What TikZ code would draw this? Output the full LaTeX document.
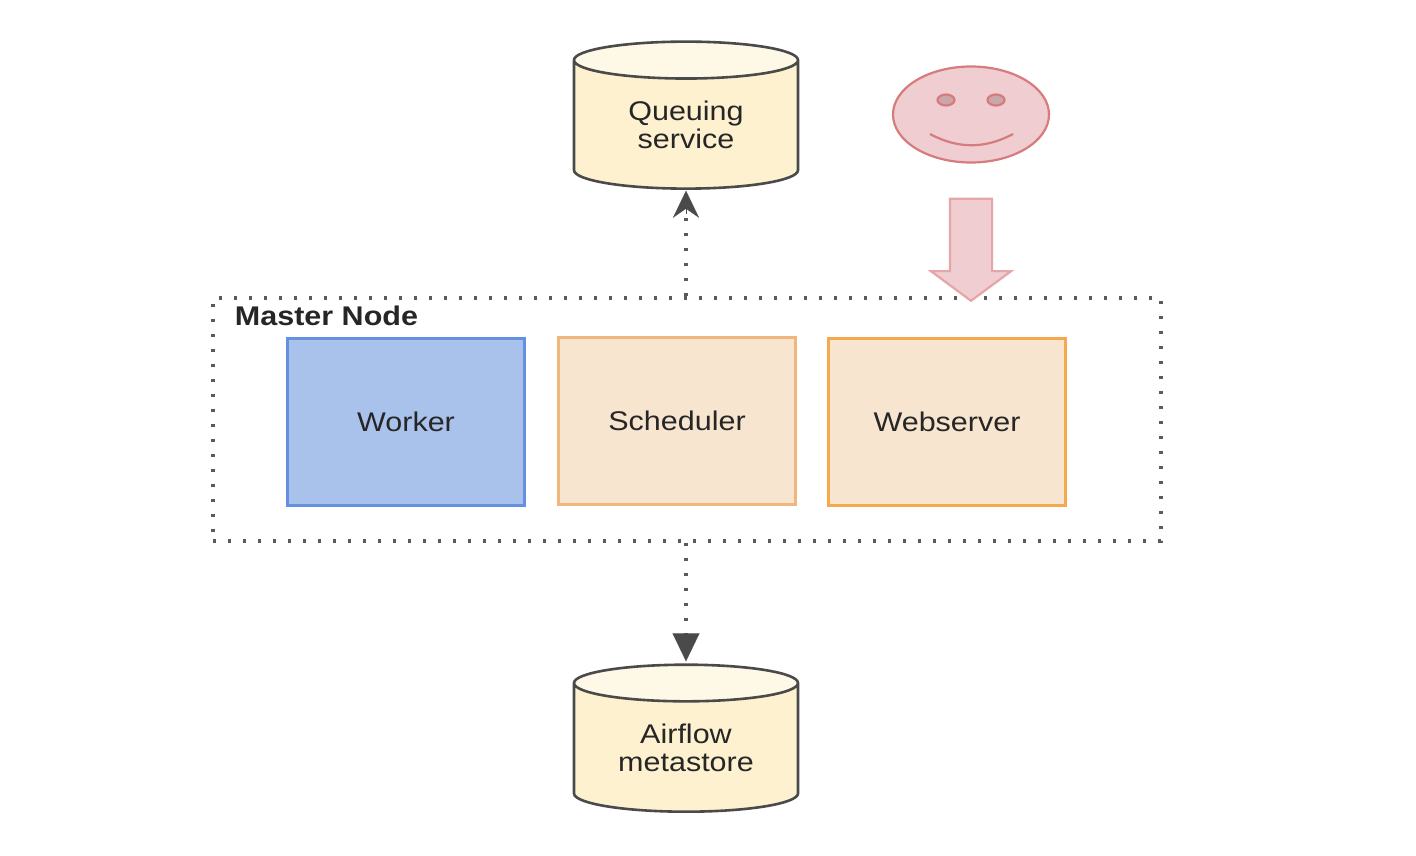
\documentclass[tikz,border=0pt]{standalone}
\usepackage{fontspec}
\setmainfont[FakeStretch=1.13]{Liberation Sans}
\usetikzlibrary{shapes.geometric,shapes.arrows,arrows.meta}
\definecolor{inkgray}{HTML}{4A4A4A}
\definecolor{dotgray}{HTML}{5A5A5A}
\definecolor{storefill}{HTML}{FDF1D0}
\definecolor{storetop}{HTML}{FEF8E6}
\definecolor{workerfill}{HTML}{A9C2EC}
\definecolor{workerline}{HTML}{6490E2}
\definecolor{peachfill}{HTML}{F8E5D0}
\definecolor{peachline}{HTML}{F0B67C}
\definecolor{webline}{HTML}{F5A84E}
\definecolor{facefill}{HTML}{EFCDD0}
\definecolor{faceline}{HTML}{D67C7E}
\definecolor{eyefill}{HTML}{C9A6A8}
\definecolor{arrowline}{HTML}{E5A6A8}
\begin{document}
\begin{tikzpicture}[
x=1pt, y=-1pt,
every node/.style={font=\fontsize{27}{28.5}\selectfont, text=black!85, align=center},
store/.style={cylinder, shape border rotate=90, draw=inkgray, line width=2.6pt, aspect=0.32, cylinder uses custom fill, cylinder body fill=storefill, cylinder end fill=storetop, minimum width=224pt, minimum height=147pt, inner sep=0pt},
component/.style={rectangle, line width=2.6pt, minimum width=237pt, minimum height=167pt, inner sep=0pt},
group/.style={rectangle, draw=dotgray, line width=3.4pt, dash pattern=on 3.4pt off 11.6pt, minimum width=948pt, minimum height=243pt, inner sep=0pt},
link/.style={draw=dotgray, line width=3.4pt, dash pattern=on 3.4pt off 11.6pt},
face/.style={ellipse, draw=faceline, fill=facefill, line width=2.2pt, minimum width=156pt, minimum height=96pt, inner sep=0pt},
eye/.style={ellipse, draw=faceline, fill=eyefill, line width=2.2pt, minimum width=17pt, minimum height=11pt, inner sep=0pt},
]
\useasboundingbox (0,0) rectangle (1416,856);
\node (master) [group] at (687,419.5) {};
\node (masterlabel) at (326.5,316) {\textbf{Master Node}};
\node (worker) [component, draw=workerline, fill=workerfill] at (406,422) {Worker};
\node (scheduler) [component, draw=peachline, fill=peachfill] at (677,421) {Scheduler};
\node (webserver) [component, draw=webline, fill=peachfill] at (947,422) {Webserver};
\node (queue) [store] at (686,125) {Queuing\\service};
\node (metastore) [store, aspect=0.27] at (686,748) {Airflow\\metastore};
\node (user) [face] at (971,114.5) {};
\node (lefteye) [eye] at (946,100) {};
\node (righteye) [eye] at (996,100) {};
\coordinate (smilestart) at (930,134);
\coordinate (smileend) at (1013,134);
\draw[faceline, line width=2.2pt] (smilestart) .. controls (958,149) and (985,149) .. (smileend);
\node (request) [single arrow, shape border rotate=270, draw=arrowline, fill=facefill, line width=2.2pt, minimum width=78pt, minimum height=102pt, single arrow head extend=19pt, single arrow head indent=0pt, single arrow tip angle=107, inner sep=20pt] at (971,242) {};
% dotted links around the master node
\draw[link] (master.north -| queue.south) -- (686,214);
\draw[link] (master.south -| metastore.north) -- (686,636);
\node (queuetip) [draw=none, inner sep=0pt] at (686,190) {};
\node (metatip) [draw=none, inner sep=0pt] at (686,662) {};
\draw[-{Stealth[length=27pt, width=26pt, inset=9pt]}, inkgray, line width=0.1pt] (686,214) -- (queuetip);
\draw[-{Triangle[length=28pt, width=27pt]}, inkgray, line width=0.1pt] (686,634) -- (metatip);
\end{tikzpicture}
\end{document}
